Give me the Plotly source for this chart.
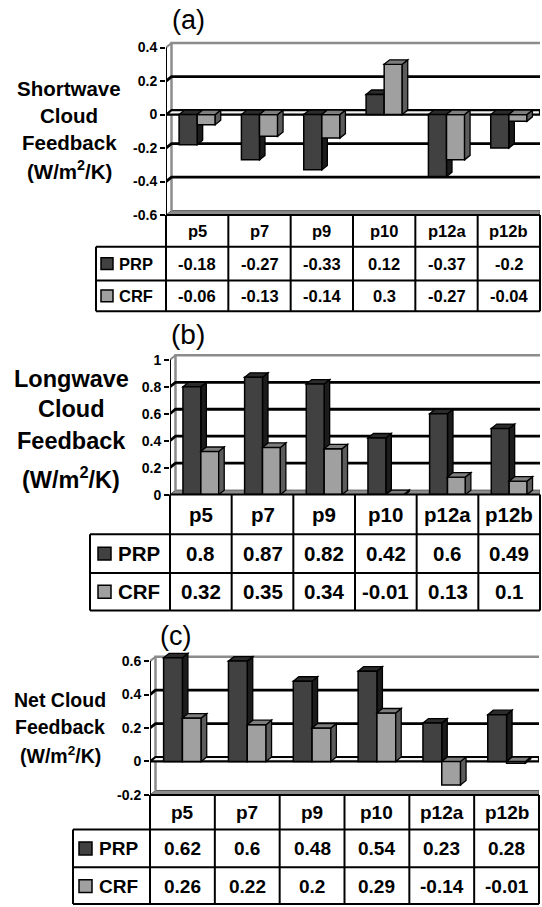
import plotly.graph_objects as go

W, H = 542, 907
FONT = "Liberation Sans, Arial, sans-serif"

# ---------------- data ----------------
categories = ["p5", "p7", "p9", "p10", "p12a", "p12b"]
series_names = ["PRP", "CRF"]

sw_prp = [-0.18, -0.27, -0.33, 0.12, -0.37, -0.2]
sw_crf = [-0.06, -0.13, -0.14, 0.3, -0.27, -0.04]
lw_prp = [0.8, 0.87, 0.82, 0.42, 0.6, 0.49]
lw_crf = [0.32, 0.35, 0.34, -0.01, 0.13, 0.1]
net_prp = [0.62, 0.6, 0.48, 0.54, 0.23, 0.28]
net_crf = [0.26, 0.22, 0.2, 0.29, -0.14, -0.01]

sw_ticks = [0.4, 0.2, 0, -0.2, -0.4, -0.6]
sw_ticktext = ["0.4", "0.2", "0", "-0.2", "-0.4", "-0.6"]
lw_ticks = [1, 0.8, 0.6, 0.4, 0.2, 0]
lw_ticktext = ["1", "0.8", "0.6", "0.4", "0.2", "0"]
net_ticks = [0.6, 0.4, 0.2, 0, -0.2]
net_ticktext = ["0.6", "0.4", "0.2", "0", "-0.2"]

# ---------------- styles ----------------
FRONT = {"PRP": "#414141", "CRF": "#a0a0a0"}
SIDE = {"PRP": "#1c1c1c", "CRF": "#5c5c5c"}
TOP = {"PRP": "#2c2c2c", "CRF": "#7e7e7e"}
WALL = "#8c8c8c"
DX_PX, DY_PX = 5.5, 4.5
BAR_W = 0.29

panels = [
    dict(title="(a)", prp=sw_prp, crf=sw_crf, ticks=sw_ticks, ticktext=sw_ticktext,
         ymin=-0.6, ymax=0.4, left=166, right=540, top=48, bottom=217,
         title_xy=(188, 20), title_size=27,
         ylabel=["Shortwave", "Cloud", "Feedback", "(W/m<sup>2</sup>/K)"],
         ylabel_x=69, ylabel_y=[89, 117, 144, 172], ylabel_size=20.5,
         rows=[217, 249, 283, 314], row_left=96, tsize=16.5, sw=12, sw_x=101, lab_x=117,
         zero_plane=True),
    dict(title="(b)", prp=lw_prp, crf=lw_crf, ticks=lw_ticks, ticktext=lw_ticktext,
         ymin=0, ymax=1, left=170, right=540, top=363, bottom=499,
         title_xy=(188, 337), title_size=28,
         ylabel=["Longwave", "Cloud", "Feedback", "(W/m<sup>2</sup>/K)"],
         ylabel_x=71, ylabel_y=[382, 413, 445, 482], ylabel_size=23.5,
         rows=[499, 539, 578, 616], row_left=90, tsize=20.5, sw=13, sw_x=98, lab_x=116,
         zero_plane=False),
    dict(title="(c)", prp=net_prp, crf=net_crf, ticks=net_ticks, ticktext=net_ticktext,
         ymin=-0.2, ymax=0.6, left=150, right=539, top=667, bottom=802,
         title_xy=(175, 642), title_size=27,
         ylabel=["Net Cloud", "Feedback", "(W/m<sup>2</sup>/K)"],
         ylabel_x=60, ylabel_y=[706, 733, 762], ylabel_size=19.5,
         rows=[802, 837, 875, 912], row_left=73, tsize=19, sw=13, sw_x=79, lab_x=97,
         zero_plane=True),
]


def PX(x):
    return x / W


def PY(y):
    return 1 - y / H


def poly(pts):
    return "M " + " L ".join(f"{a},{b}" for a, b in pts) + " Z"


def line_path(pts):
    return "M " + " L ".join(f"{a},{b}" for a, b in pts)


fig = go.Figure()
shapes = []
annotations = []
layout_axes = {}

for i, p in enumerate(panels):
    n = "" if i == 0 else str(i + 1)
    xa, ya = "x" + n, "y" + n
    colw = (p["right"] - p["left"]) / 6.0
    upp = (p["ymax"] - p["ymin"]) / (p["bottom"] - p["top"])
    dx = DX_PX / colw
    dy = DY_PX * upp
    pad = 14
    x_lo, x_hi = -0.5, len(categories) - 0.5

    layout_axes["xaxis" + n] = dict(domain=[PX(p["left"]), PX(p["right"])], range=[x_lo, x_hi],
                                    visible=False, anchor=ya, fixedrange=True)
    layout_axes["yaxis" + n] = dict(domain=[PY(p["bottom"]), PY(p["top"] - pad)],
                                    range=[p["ymin"], p["ymax"] + pad * upp], anchor=xa,
                                    tickvals=p["ticks"], ticktext=p["ticktext"],
                                    ticks="outside", ticklen=5, tickwidth=2, tickcolor="black",
                                    showgrid=False, zeroline=False, showline=False, fixedrange=True,
                                    tickfont=dict(family=FONT, size=14, color="black", weight="bold"))

    ymin, ymax = p["ymin"], p["ymax"]
    # floor
    shapes.append(dict(type="path", xref=xa, yref=ya, layer="below",
                       path=poly([(x_lo, ymin), (x_lo + dx, ymin + dy), (x_hi, ymin + dy), (x_hi, ymin)]),
                       fillcolor=WALL, line=dict(color="#555555", width=1)))
    # back wall outline
    shapes.append(dict(type="path", xref=xa, yref=ya, layer="below",
                       path=line_path([(x_lo + dx, ymin + dy), (x_lo + dx, ymax + dy), (x_hi, ymax + dy)]),
                       line=dict(color=WALL, width=2.5)))
    shapes.append(dict(type="path", xref=xa, yref=ya, layer="below",
                       path=line_path([(x_lo, ymax), (x_lo + dx, ymax + dy)]),
                       line=dict(color=WALL, width=2)))
    # gridlines on back wall
    for t in p["ticks"]:
        if t in (ymin, ymax) or (t == 0 and p["zero_plane"]):
            continue
        shapes.append(dict(type="path", xref=xa, yref=ya, layer="below",
                           path=line_path([(x_lo, t), (x_lo + dx, t + dy), (x_hi, t + dy)]),
                           line=dict(color="black", width=2.8)))
    if p["zero_plane"]:
        shapes.append(dict(type="path", xref=xa, yref=ya, layer="below",
                           path=poly([(x_lo, 0), (x_lo + dx, dy), (x_hi, dy), (x_hi, 0)]),
                           fillcolor="#f2f2f2", line=dict(color="black", width=2.2)))

    # bars
    for name, vals, off in (("PRP", p["prp"], -BAR_W), ("CRF", p["crf"], 0.0)):
        fig.add_trace(go.Bar(x=list(range(len(categories))), y=vals, width=BAR_W, offset=off,
                             marker=dict(color=FRONT[name], line=dict(color="black", width=1.5)),
                             xaxis=xa, yaxis=ya, showlegend=False, hoverinfo="skip", name=name))
        layer = "below" if name == "PRP" else "above"
        for k, v in enumerate(vals):
            x0 = k + off
            x1 = x0 + BAR_W
            side = [(x1, 0), (x1 + dx, dy), (x1 + dx, v + dy), (x1, v)]
            capy = max(v, 0)
            top = [(x0, capy), (x0 + dx, capy + dy), (x1 + dx, capy + dy), (x1, capy)]
            shapes.append(dict(type="path", xref=xa, yref=ya, layer=layer, path=poly(side),
                               fillcolor=SIDE[name], line=dict(color="black", width=1.3)))
            shapes.append(dict(type="path", xref=xa, yref=ya, layer=layer, path=poly(top),
                               fillcolor=TOP[name], line=dict(color="black", width=1.3)))

    # front y axis line
    shapes.append(dict(type="line", xref=xa, yref=ya, x0=x_lo, x1=x_lo, y0=ymin, y1=ymax,
                       line=dict(color="black", width=2), layer="above"))

    # title
    annotations.append(dict(text=p["title"], x=PX(p["title_xy"][0]), y=PY(p["title_xy"][1]),
                            xref="paper", yref="paper", showarrow=False, xanchor="center", yanchor="middle",
                            font=dict(family=FONT, size=p["title_size"], color="black")))
    # y label lines
    for txt, yy in zip(p["ylabel"], p["ylabel_y"]):
        annotations.append(dict(text=txt, x=PX(p["ylabel_x"]), y=PY(yy), xref="paper", yref="paper",
                                showarrow=False, xanchor="center", yanchor="middle",
                                font=dict(family=FONT, size=p["ylabel_size"], color="black", weight="bold")))

    # data table
    r0, r1, r2, r3 = p["rows"]
    L, R, RL = p["left"], p["right"], p["row_left"]
    tl = dict(color="black", width=2)
    shapes.append(dict(type="line", xref="paper", yref="paper", x0=PX(L), x1=PX(R), y0=PY(r0), y1=PY(r0), line=tl))
    for ry in (r1, r2, r3):
        shapes.append(dict(type="line", xref="paper", yref="paper", x0=PX(RL), x1=PX(R), y0=PY(ry), y1=PY(ry), line=tl))
    shapes.append(dict(type="line", xref="paper", yref="paper", x0=PX(RL), x1=PX(RL), y0=PY(r1), y1=PY(r3), line=tl))
    for k in range(len(categories) + 1):
        cx = L + k * colw
        shapes.append(dict(type="line", xref="paper", yref="paper", x0=PX(cx), x1=PX(cx), y0=PY(r0), y1=PY(r3), line=tl))
    tfont = dict(family=FONT, size=p["tsize"], color="black", weight="bold")
    for k, c in enumerate(categories):
        annotations.append(dict(text=c, x=k, xref=xa, y=PY((r0 + r1) / 2), yref="paper", showarrow=False,
                                xanchor="center", yanchor="middle", font=tfont))
    for name, vals, (ra, rb) in (("PRP", p["prp"], (r1, r2)), ("CRF", p["crf"], (r2, r3 if i < 2 else r2 + (r2 - r1)))):
        cy = (ra + rb) / 2
        for k, v in enumerate(vals):
            annotations.append(dict(text=f"{v:g}", x=k, xref=xa, y=PY(cy), yref="paper", showarrow=False,
                                    xanchor="center", yanchor="middle", font=tfont))
        s = p["sw"]
        shapes.append(dict(type="rect", xref="paper", yref="paper", x0=PX(p["sw_x"]), x1=PX(p["sw_x"] + s),
                           y0=PY(cy - s / 2), y1=PY(cy + s / 2), fillcolor=FRONT[name],
                           line=dict(color="black", width=1.5)))
        annotations.append(dict(text=name, x=PX(p["lab_x"]), y=PY(cy), xref="paper", yref="paper",
                                showarrow=False, xanchor="left", yanchor="middle", font=tfont))

fig.update_layout(width=W, height=H, margin=dict(l=0, r=0, t=0, b=0), paper_bgcolor="white",
                  plot_bgcolor="rgba(0,0,0,0)", barmode="overlay", shapes=shapes, annotations=annotations,
                  font=dict(family=FONT, color="black"), **layout_axes)

fig.write_html("out.html", config={"displayModeBar": False},
               post_script="document.body.style.margin='0';document.body.style.padding='0';"
                           "document.documentElement.style.overflow='hidden';")
